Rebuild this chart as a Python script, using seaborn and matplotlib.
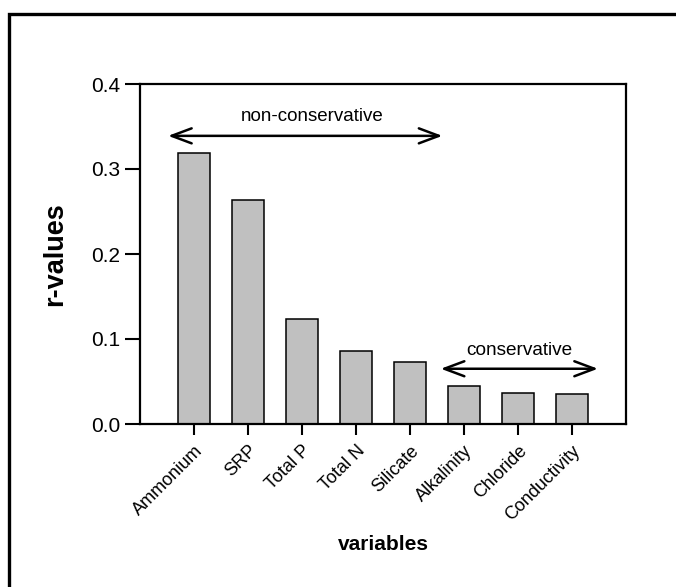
import matplotlib
matplotlib.use("Agg")
import matplotlib.pyplot as plt
from matplotlib.patches import Rectangle
import seaborn as sns
import pandas as pd

categories = ["Ammonium", "SRP", "Total P", "Total N", "Silicate",
              "Alkalinity", "Chloride", "Conductivity"]
r_values = [0.319, 0.263, 0.123, 0.086, 0.073, 0.045, 0.037, 0.035]
y_ticks = [0.0, 0.1, 0.2, 0.3, 0.4]

df = pd.DataFrame({"variables": categories, "r": r_values})

sns.set_theme(style="white")
plt.rcParams['font.family'] = ['Liberation Sans', 'DejaVu Sans']
plt.rcParams['text.color'] = 'black'
plt.rcParams['axes.labelcolor'] = 'black'
plt.rcParams['xtick.color'] = 'black'
plt.rcParams['ytick.color'] = 'black'

W, H = 676, 587
fig = plt.figure(figsize=(W / 100, H / 100), dpi=100)
ax = fig.add_axes([140 / W, (H - 424) / H, (626 - 140) / W, (424 - 84) / H])

sns.barplot(data=df, x="variables", y="r", ax=ax, color="#c0c0c0",
            saturation=1, width=0.6, edgecolor="black", linewidth=1.1)

ax.set_xlim(-1, 8)
ax.set_ylim(0, 0.4)
ax.set_yticks(y_ticks)
ax.set_yticklabels([f"{v:.1f}" for v in y_ticks], fontsize=15)
ax.set_xticks(range(len(categories)))
ax.set_xticklabels(categories, rotation=45, ha="right", rotation_mode="anchor",
                   fontsize=13)
ax.tick_params(axis="y", direction="out", length=11, width=1.5, left=True, pad=3)
ax.tick_params(axis="x", direction="out", length=8, width=1.5, bottom=True, pad=5)
for s in ax.spines.values():
    s.set_visible(True)
    s.set_linewidth(1.6)
    s.set_color("black")

ax.set_ylabel("r-values", fontsize=19.5, fontweight="bold", labelpad=17)
ax.set_xlabel("variables", fontsize=15, fontweight="bold", labelpad=8)

# annotations
arrowprops = dict(arrowstyle="<->,head_length=1.2,head_width=0.45", lw=1.8,
                  color="black", shrinkA=0, shrinkB=0)
ax.annotate("", xy=(-0.48, 0.339), xytext=(4.6, 0.339), arrowprops=arrowprops)
ax.text(2.19, 0.362, "non-conservative", ha="center", va="center", fontsize=13.5)
ax.annotate("", xy=(4.57, 0.065), xytext=(7.48, 0.065), arrowprops=arrowprops)
ax.text(6.02, 0.086, "conservative", ha="center", va="center", fontsize=13.7)

# outer frame
fig.patches.append(Rectangle((9 / W, -0.05), 1.0, (H - 14) / H + 0.05,
                             transform=fig.transFigure, fill=False,
                             edgecolor="black", linewidth=2.4))

fig.savefig("out.png", dpi=100)
